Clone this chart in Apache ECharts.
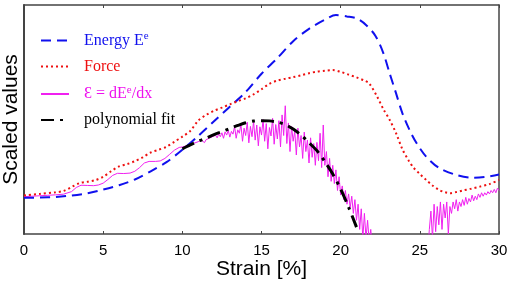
<!DOCTYPE html>
<html>
<head>
<meta charset="utf-8">
<script src="https://cdn.jsdelivr.net/npm/echarts@6/dist/echarts.min.js"></script>
<style>
  html, body { margin: 0; padding: 0; background: #fff; }
  #chart { width: 510px; height: 281px; }
</style>
</head>
<body>
<div id="chart"></div>
<script>
// x ticks of the strain axis
const strainTicks = [0, 5, 10, 15, 20, 25, 30];

// Energy E^e (blue dashed)
const energyX = [0, 1, 2, 3, 4, 5, 6, 7, 8, 9, 10, 11, 12, 13, 14, 15, 16, 17, 18, 19, 19.7, 20.4, 21, 21.6, 22.2, 22.7, 23.1, 23.5, 23.9, 24.35, 24.8, 25.4, 26.2, 27.3, 28.3, 29.2, 30];
const energyY = [0.158, 0.159, 0.162, 0.168, 0.178, 0.194, 0.213, 0.238, 0.274, 0.314, 0.368, 0.428, 0.492, 0.556, 0.620, 0.700, 0.768, 0.842, 0.896, 0.936, 0.956, 0.950, 0.942, 0.913, 0.865, 0.789, 0.700, 0.614, 0.527, 0.454, 0.396, 0.338, 0.289, 0.258, 0.246, 0.250, 0.260];

// Force (red dotted)
const forceX = [0, 1, 2, 2.5, 3, 3.5, 4, 4.5, 5, 5.5, 6, 6.5, 7, 7.5, 8, 8.5, 9, 9.5, 10, 10.5, 11, 11.5, 12, 12.5, 13, 13.5, 14, 14.5, 15, 15.5, 16, 16.5, 17, 17.5, 18, 18.5, 19, 19.5, 20, 20.5, 21, 21.5, 21.8, 22.3, 22.7, 23.1, 23.5, 23.9, 24.3, 24.6, 25, 25.4, 25.8, 26.2, 26.6, 26.9, 27.3, 27.7, 28.2, 28.8, 29.4, 30];
const forceY = [0.168, 0.175, 0.182, 0.188, 0.205, 0.222, 0.228, 0.235, 0.250, 0.274, 0.295, 0.305, 0.318, 0.335, 0.356, 0.368, 0.381, 0.403, 0.425, 0.450, 0.495, 0.520, 0.538, 0.552, 0.566, 0.580, 0.592, 0.610, 0.632, 0.656, 0.670, 0.678, 0.685, 0.693, 0.702, 0.709, 0.713, 0.716, 0.708, 0.696, 0.684, 0.670, 0.658, 0.600, 0.545, 0.498, 0.440, 0.370, 0.320, 0.290, 0.262, 0.236, 0.212, 0.193, 0.182, 0.178, 0.183, 0.190, 0.197, 0.207, 0.218, 0.236];

// epsilon = dE/dx, smooth part (magenta)
const epsSmoothX = [0, 0.5, 1, 1.5, 2, 2.5, 3, 3.3, 3.6, 4, 4.4, 4.7, 5, 5.3, 5.6, 5.9, 6.3, 6.7, 7, 7.3, 7.6, 7.9, 8.3, 8.6, 8.9, 9.2, 9.5, 9.8];
const epsSmoothY = [0.163, 0.165, 0.167, 0.169, 0.171, 0.174, 0.185, 0.203, 0.213, 0.212, 0.211, 0.214, 0.222, 0.238, 0.256, 0.265, 0.264, 0.266, 0.274, 0.290, 0.310, 0.317, 0.317, 0.319, 0.330, 0.348, 0.366, 0.378];

// epsilon, noisy part sampled every 0.1 % from 10 to 22
const epsNoisyStart = 10;
const epsNoisyY = [
  0.380, 0.377, 0.384, 0.381, 0.390, 0.386, 0.394, 0.389, 0.398, 0.393,
  0.403, 0.398, 0.410, 0.404, 0.399, 0.412, 0.405, 0.418, 0.410, 0.425,
  0.417, 0.431, 0.420, 0.437, 0.425, 0.442, 0.418, 0.446, 0.432, 0.452,
  0.423, 0.448, 0.436, 0.470, 0.418, 0.455, 0.440, 0.478, 0.405, 0.462,
  0.430, 0.488, 0.398, 0.470, 0.425, 0.492, 0.410, 0.476, 0.385, 0.468,
  0.432, 0.500, 0.405, 0.482, 0.372, 0.465, 0.428, 0.505, 0.392, 0.478,
  0.415, 0.495, 0.380, 0.520, 0.430, 0.560, 0.395, 0.485, 0.360, 0.470,
  0.405, 0.450, 0.345, 0.462, 0.380, 0.430, 0.330, 0.445, 0.360, 0.410,
  0.310, 0.420, 0.335, 0.395, 0.300, 0.400, 0.320, 0.440, 0.290, 0.476,
  0.300, 0.360, 0.250, 0.330, 0.230, 0.300, 0.220, 0.280, 0.190, 0.250,
  0.170, 0.210, 0.150, 0.190, 0.130, 0.175, 0.115, 0.165, 0.090, 0.150,
  0.060, 0.130, 0.020, 0.110, -0.020, 0.090, -0.020, 0.060, -0.030, 0.020,
  -0.060
];
// epsilon, noisy tail sampled every 0.1 % from 25.5 to 30
const epsTailStart = 25.5;
const epsTailY = [
  -0.080, 0.020, 0.100, -0.020, 0.130, 0.010, 0.120, 0.040, 0.140, 0.020,
  0.130, 0.070, 0.140, 0.000, 0.120, 0.090, 0.140, 0.110, 0.150, 0.100,
  0.140, 0.120, 0.150, 0.125, 0.160, 0.130, 0.155, 0.140, 0.170, 0.145,
  0.165, 0.150, 0.175, 0.160, 0.180, 0.165, 0.180, 0.170, 0.185, 0.175,
  0.190, 0.180, 0.195, 0.180, 0.200, 0.190
];

// polynomial fit (black dash-dot)
const fitX = [10, 10.5, 11, 11.5, 12, 12.5, 13, 13.5, 14, 14.5, 15, 15.5, 16, 16.5, 17, 17.5, 18, 18.5, 19, 19.5, 20, 20.5, 21];
const fitY = [0.372, 0.389, 0.405, 0.419, 0.434, 0.447, 0.461, 0.474, 0.486, 0.493, 0.495, 0.494, 0.489, 0.478, 0.458, 0.432, 0.399, 0.364, 0.316, 0.262, 0.196, 0.117, 0.030];

function zip(xs, ys) {
  return xs.map((x, i) => [x, ys[i]]);
}

let epsData = zip(epsSmoothX, epsSmoothY);
epsNoisyY.forEach((y, i) => epsData.push([+(epsNoisyStart + i * 0.1).toFixed(1), y]));
epsTailY.forEach((y, i) => epsData.push([+(epsTailStart + i * 0.1).toFixed(1), y]));

const chart = echarts.init(document.getElementById('chart'));
const axisColor = '#444';

const option = {
  backgroundColor: '#fff',
  animation: false,
  grid: { left: 24, right: 11, top: 5, bottom: 47, outerBoundsMode: 'none', containLabel: false },
  legend: {
    orient: 'vertical',
    left: 35,
    top: 26,
    itemWidth: 28,
    itemHeight: 14,
    itemGap: 10,
    itemStyle: { opacity: 0 },
    textStyle: {
      fontFamily: 'Liberation Serif',
      fontSize: 16,
      padding: [0, 0, 0, 10],
      rich: {
        sup: { fontSize: 11, verticalAlign: 'top', padding: [0, 0, 8, 0], fontFamily: 'Liberation Serif' }
      }
    },
    data: [
      { name: 'Energy', textStyle: { color: '#1010ee' } },
      { name: 'Force', textStyle: { color: '#ee1010' } },
      { name: 'eps', textStyle: { color: '#ee10ee' } },
      { name: 'fit', textStyle: { color: '#000' } }
    ],
    formatter: function (name) {
      if (name === 'Energy') return 'Energy E{sup|e}';
      if (name === 'Force') return 'Force';
      if (name === 'eps') return 'Ɛ = dE{sup|e}/dx';
      return 'polynomial fit';
    }
  },
  xAxis: [{
    type: 'value',
    min: strainTicks[0],
    max: strainTicks[strainTicks.length - 1],
    interval: 5,
    name: 'Strain [%]',
    nameLocation: 'middle',
    nameGap: 25,
    nameMoveOverlap: false,
    nameTextStyle: { fontFamily: 'Liberation Sans', fontSize: 21, color: '#000' },
    axisLine: { lineStyle: { color: axisColor, width: 1.5 } },
    axisTick: { inside: true, length: 3, lineStyle: { color: axisColor } },
    axisLabel: { fontFamily: 'Liberation Sans', fontSize: 15, color: '#000', margin: 9 },
    splitLine: { show: false }
  }, {
    type: 'value',
    position: 'top',
    min: 0,
    max: 30,
    interval: 5,
    axisLine: { show: true, onZero: false, lineStyle: { color: axisColor, width: 1.5 } },
    axisTick: { inside: true, length: 3, lineStyle: { color: axisColor } },
    axisLabel: { show: false },
    splitLine: { show: false }
  }],
  yAxis: [{
    type: 'value',
    min: 0,
    max: 1,
    name: 'Scaled values',
    nameLocation: 'middle',
    nameGap: 2,
    nameMoveOverlap: false,
    nameTextStyle: { fontFamily: 'Liberation Sans', fontSize: 21, color: '#000' },
    axisLine: { show: true, lineStyle: { color: axisColor, width: 2 } },
    axisTick: { show: false },
    axisLabel: { show: false },
    splitLine: { show: false }
  }, {
    type: 'value',
    position: 'right',
    min: 0,
    max: 1,
    axisLine: { show: true, onZero: false, lineStyle: { color: axisColor, width: 1.5 } },
    axisTick: { show: false },
    axisLabel: { show: false },
    splitLine: { show: false }
  }],
  series: [{
    name: 'Energy',
    type: 'line',
    data: zip(energyX, energyY),
    smooth: 0.3,
    symbol: 'none',
    color: '#1010ee',
    lineStyle: { color: '#1010ee', width: 2, type: [10, 6] },
    z: 3
  }, {
    name: 'Force',
    type: 'line',
    data: zip(forceX, forceY),
    smooth: 0.3,
    symbol: 'none',
    color: '#ee1010',
    lineStyle: { color: '#ee1010', width: 2, type: [2, 3] },
    z: 3
  }, {
    name: 'eps',
    type: 'line',
    data: epsData,
    symbol: 'none',
    color: '#f020f0',
    lineStyle: { color: '#f020f0', width: 1 },
    clip: true,
    z: 2
  }, {
    name: 'fit',
    type: 'line',
    data: zip(fitX, fitY),
    smooth: 0.3,
    symbol: 'none',
    color: '#000',
    lineStyle: { color: '#000', width: 3, type: [13, 6, 3, 6] },
    z: 4
  }]
};

chart.setOption(option);
window.onresize = () => { chart.resize(); };
</script>
</body>
</html>
